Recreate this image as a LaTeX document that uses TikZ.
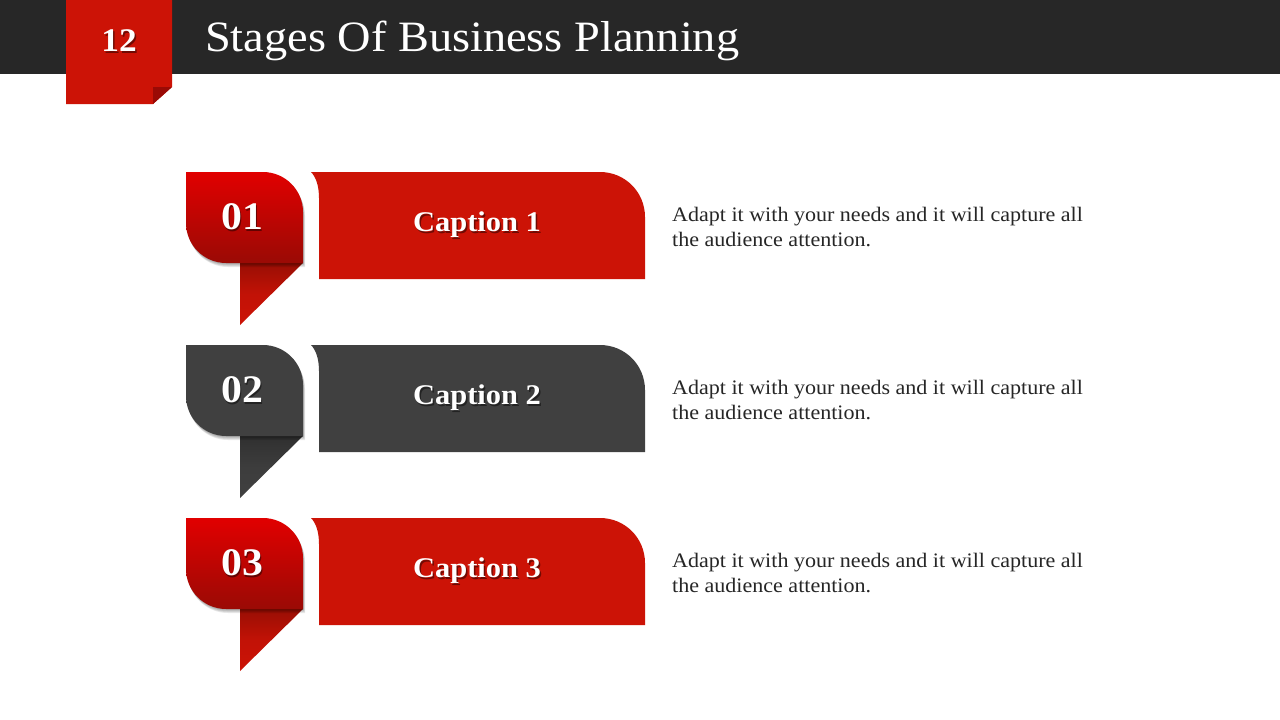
\documentclass[tikz,border=0pt]{standalone}
\usepackage{fontspec}
\setmainfont[FakeStretch=1.07]{Liberation Serif}
\definecolor{barbg}{HTML}{272727}
\definecolor{bandred}{HTML}{CC1306}
\definecolor{darkred}{HTML}{9A0A05}
\definecolor{topred}{HTML}{E10000}
\definecolor{bandgray}{HTML}{404040}
\definecolor{txt}{HTML}{262626}
\tikzset{
  numtxt/.style={text=white,font=\bfseries\fontsize{39}{44}\selectfont,inner sep=0},
  captxt/.style={text=white,font=\bfseries\fontsize{28.5}{32}\selectfont,inner sep=0},
  shadowtxt/.style={text=black,opacity=0.45,inner sep=0},
  desctxt/.style={text=txt,font=\fontsize{20.6}{25}\selectfont,align=left,anchor=north west,inner sep=0},
}
\newcommand{\badgeshape}{(186,172) -- (263,172) .. controls (285,172) and (303,190) .. (303,212) -- (303,263) -- (226,263) .. controls (204,263) and (186,245) .. (186,223) -- cycle}
\newcommand{\badge}[4]{% y offset, top color, bottom color, tail color
  \begin{scope}[yshift=#1]
  % tail
  \shade[top color=#4!75!black,bottom color=#4,middle color=#4!95!black] (240,263) -- (303,263) -- (240,325) -- cycle;
  % soft shadow
  \foreach \d in {1,2,3,4}{
    \fill[black,opacity=0.09] [shift={(\d*0.5,\d)}] \badgeshape;
  }
  % badge
  \shade[top color=#2,bottom color=#3] \badgeshape;
  \end{scope}
}
\newcommand{\band}[2]{%
  \fill[#2] (311,172+#1) -- (600,172+#1) .. controls (625,172+#1) and (645,192+#1) .. (645,217+#1) -- (645,279+#1) -- (319,279+#1) -- (319,198+#1) .. controls (319,186+#1) and (316,177+#1) .. (311,172+#1) -- cycle;
}
\begin{document}
\begin{tikzpicture}[x=1pt,y=-1pt]
\useasboundingbox (0,0) rectangle (1280,720);
\fill[white] (0,0) rectangle (1280,720);
% top bar
\fill[barbg] (0,0) rectangle (1280,74);
% tab
\fill[bandred] (66,0) -- (172,0) -- (172,87) -- (153,104) -- (66,104) -- cycle;
\fill[darkred] (153,87) -- (172,87) -- (153,104) -- cycle;
\node[shadowtxt,font=\bfseries\fontsize{33}{36}\selectfont] at (120.5,42.5) {12};
\node[text=white,font=\bfseries\fontsize{33}{36}\selectfont,inner sep=0] (num) at (119,41) {12};
\node[text=white,font=\fontsize{43.3}{46}\selectfont,anchor=base west,inner sep=0] (title) at (205,51) {Stages Of Business Planning};

% rows
\badge{0}{topred}{darkred}{bandred}
\badge{-173}{bandgray}{bandgray}{bandgray}
\badge{-346}{topred}{darkred}{bandred}
\band{0}{bandred}
\band{173}{bandgray}
\band{346}{bandred}

\foreach \i/\n/\y in {1/01/217,2/02/390,3/03/563}{
  \node[numtxt,shadowtxt] at (243.5,\y+1.5) {\n};
  \node[numtxt] (n\i) at (242,\y) {\n};
}
\foreach \i/\y in {1/222,2/395,3/568}{
  \node[captxt,shadowtxt] at (478.5,\y+4.5) {Caption \i};
  \node[captxt] (c\i) at (477,\y+3) {Caption \i};
  \node[desctxt] (d\i) at (672,\y-15) {Adapt it with your needs and it will capture all\\the audience attention.};
}
\end{tikzpicture}
\end{document}
